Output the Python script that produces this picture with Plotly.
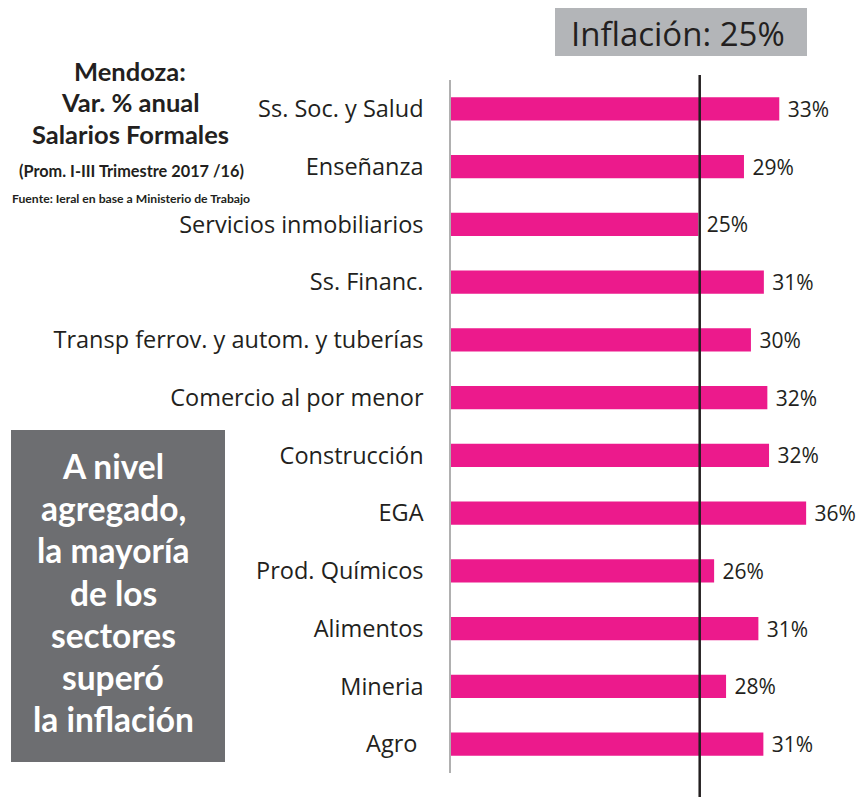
import plotly.graph_objects as go

# ---- data ----
sectores = [
    "Ss. Soc. y Salud",
    "Enseñanza",
    "Servicios inmobiliarios",
    "Ss. Financ.",
    "Transp ferrov. y autom. y tuberías",
    "Comercio al por menor",
    "Construcción",
    "EGA",
    "Prod. Químicos",
    "Alimentos",
    "Mineria",
    "Agro ",
]
var_anual = [33.0, 29.45, 24.86, 31.45, 30.15, 31.8, 31.97, 35.7, 26.45, 30.9, 27.65, 31.4]
inflacion = 25

titulo = ["Mendoza:", "Var. % anual", "Salarios Formales"]
subtitulo = "(Prom. I-III Trimestre 2017 /16)"
fuente = "Fuente: Ieral en base a Ministerio de Trabajo"
mensaje = ["A nivel", "agregado,", "la mayoría", "de los", "sectores", "superó", "la inflación"]
etiqueta_inflacion = f"Inflación: {inflacion}%"

# ---- layout geometry (page pixels; body margin removed by post_script) ----
W, H = 859, 797
ML = 451
MT = 80
PW = 388
PH = 693
MR = W - ML - PW
MB = H - MT - PH


def px(x):
    return (x - ML) / PW


def py(y):
    return (MT + PH - y) / PH


PINK = "#EC1A8C"
TXT = "#231F20"

fig = go.Figure()
fig.add_trace(go.Bar(
    x=var_anual,
    y=sectores,
    orientation="h",
    marker=dict(color=PINK, line=dict(width=0)),
    text=[f"{round(v)}%" for v in var_anual],
    texttemplate=" %{text}",
    textposition="outside",
    constraintext="none",
    cliponaxis=False,
    textfont=dict(family="Open Sans", size=21, color=TXT),
    hoverinfo="skip",
))

shapes = [
    # inflation line
    dict(type="line", xref="x", yref="paper", x0=inflacion, x1=inflacion,
         y0=py(800), y1=py(75), line=dict(color=TXT, width=2.5)),
    # inflation box
    dict(type="rect", xref="paper", yref="paper", x0=px(555), x1=px(807),
         y0=py(56), y1=py(8), fillcolor="#B3B5B8", line=dict(width=0), layer="below"),
    # message box
    dict(type="rect", xref="paper", yref="paper", x0=px(11), x1=px(225),
         y0=py(762), y1=py(430), fillcolor="#6D6E71", line=dict(width=0), layer="below"),
]

annotations = [
    dict(text=etiqueta_inflacion, xref="paper", yref="paper", x=px(678), y=py(33),
         showarrow=False, xanchor="center", yanchor="middle",
         font=dict(family="Open Sans", size=33, color=TXT)),
]
for i, t in enumerate(titulo):
    annotations.append(dict(text=f"<b>{t}</b>", xref="paper", yref="paper", x=px(130),
                            y=py(71 + 31.5 * i), showarrow=False, xanchor="center",
                            yanchor="middle",
                            font=dict(family="Lato", size=25.5, color=TXT)))
annotations.append(dict(text=f"<b>{subtitulo}</b>", xref="paper", yref="paper", x=px(131),
                        y=py(170), showarrow=False, xanchor="center", yanchor="middle",
                        font=dict(family="Lato", size=16.3, color=TXT)))
annotations.append(dict(text=f"<b>{fuente}</b>", xref="paper", yref="paper", x=px(131),
                        y=py(198), showarrow=False, xanchor="center", yanchor="middle",
                        font=dict(family="Lato", size=12.2, color=TXT)))
for i, t in enumerate(mensaje):
    annotations.append(dict(text=f"<b>{t}</b>", xref="paper", yref="paper", x=px(113),
                            y=py(466 + 42.2 * i), showarrow=False, xanchor="center",
                            yanchor="middle",
                            font=dict(family="Lato", size=33.5, color="white")))

fig.update_layout(
    width=W, height=H,
    margin=dict(l=ML, r=MR, t=MT, b=MB, pad=0),
    paper_bgcolor="white", plot_bgcolor="white",
    showlegend=False,
    bargap=0.6,
    shapes=shapes,
    annotations=annotations,
    xaxis=dict(range=[0, PW / 9.948], visible=False, fixedrange=True),
    yaxis=dict(
        type="category",
        categoryorder="array", categoryarray=sectores,
        range=[len(sectores) - 0.5, -0.5],
        showline=True, linecolor="#B0B0B0", linewidth=1.5,
        showgrid=False, zeroline=False, ticks="",
        ticklabelstandoff=21,
        tickfont=dict(family="Open Sans", size=23.5, color=TXT),
        fixedrange=True,
    ),
)

fig.write_html(
    "out.html",
    config={"displayModeBar": False},
    post_script="document.body.style.margin='0';document.body.style.overflow='hidden';",
)
